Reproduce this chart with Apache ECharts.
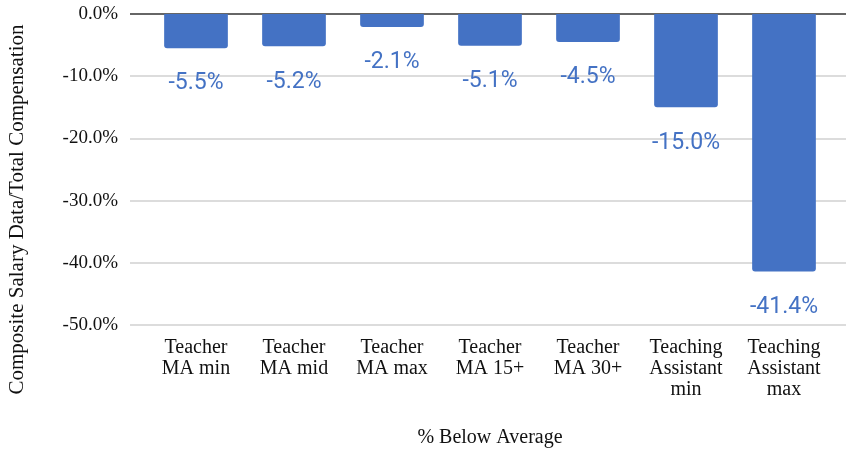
<!DOCTYPE html>
<html>

<head>
  <meta charset="utf-8">
  <title>% Below Average</title>
  <script src="https://cdn.jsdelivr.net/npm/echarts@6/dist/echarts.min.js"></script>
  <style type="text/css">
    html,
    body {
      margin: 0;
      background-color: #fff;
    }

    #main {
      width: 846px;
      height: 449px;
    }
  </style>
</head>

<body>
  <div id="main"></div>

  <script type="text/javascript">
    // data
    var categories = ['Teacher\nMA min', 'Teacher\nMA mid', 'Teacher\nMA max', 'Teacher\nMA 15+',
      'Teacher\nMA 30+', 'Teaching\nAssistant\nmin', 'Teaching\nAssistant\nmax'];
    var belowAverage = [-5.5, -5.2, -2.1, -5.1, -4.5, -15.0, -41.4];
    var yTicks = [-50, -40, -30, -20, -10, 0];

    var serif = "'Liberation Serif', 'Times New Roman', serif";
    var blue = '#4472c4';

    var myChart = echarts.init(document.getElementById('main'));

    var option = {
      animation: false,
      // grid 0 carries the gridlines and y labels (wider), grid 1 the bars
      grid: [
        { left: 130, right: 0, top: 14, bottom: 124, outerBoundsMode: 'none' },
        { left: 147, right: 13, top: 14, bottom: 124, outerBoundsMode: 'none' }
      ],
      xAxis: [{
        gridIndex: 0,
        type: 'value',
        min: 0,
        max: 1,
        show: false
      }, {
        gridIndex: 1,
        type: 'category',
        data: categories,
        position: 'bottom',
        name: '% Below Average',
        nameLocation: 'middle',
        nameGap: 103,
        nameTextStyle: { fontFamily: serif, fontSize: 20, color: '#111' },
        axisLine: { show: false, onZero: false },
        axisTick: { show: false },
        axisLabel: {
          interval: 0,
          margin: 12,
          fontFamily: serif,
          fontSize: 20,
          lineHeight: 21,
          color: '#111'
        }
      }],
      yAxis: [{
        gridIndex: 0,
        type: 'value',
        min: yTicks[0],
        max: yTicks[yTicks.length - 1],
        interval: 10,
        name: 'Composite Salary Data/Total Compensation',
        nameLocation: 'middle',
        nameGap: 102,
        nameTextStyle: { fontFamily: serif, fontSize: 21, color: '#111', padding: [0, 80, 0, 0] },
        axisLine: { show: false },
        axisTick: { show: false },
        axisLabel: {
          margin: 12,
          fontFamily: serif,
          fontSize: 19,
          color: '#111',
          formatter: function (v) { return v.toFixed(1) + '%'; }
        },
        splitLine: {
          show: true,
          lineStyle: {
            width: 1.5,
            color: ['#d0d0d0', '#d0d0d0', '#d0d0d0', '#d0d0d0', '#d0d0d0', '#333']
          }
        }
      }, {
        gridIndex: 1,
        type: 'value',
        min: yTicks[0],
        max: yTicks[yTicks.length - 1],
        interval: 10,
        show: false
      }],
      series: [{
        type: 'bar',
        xAxisIndex: 1,
        yAxisIndex: 1,
        data: belowAverage,
        barCategoryGap: '35%',
        itemStyle: { color: blue, borderRadius: [0, 0, 3, 3] },
        label: {
          show: true,
          position: 'bottom',
          distance: 24,
          fontFamily: 'Roboto',
          fontSize: 23,
          color: blue,
          formatter: function (p) { return p.value.toFixed(1) + '%'; }
        }
      }]
    };

    myChart.setOption(option);
  </script>
</body>

</html>
